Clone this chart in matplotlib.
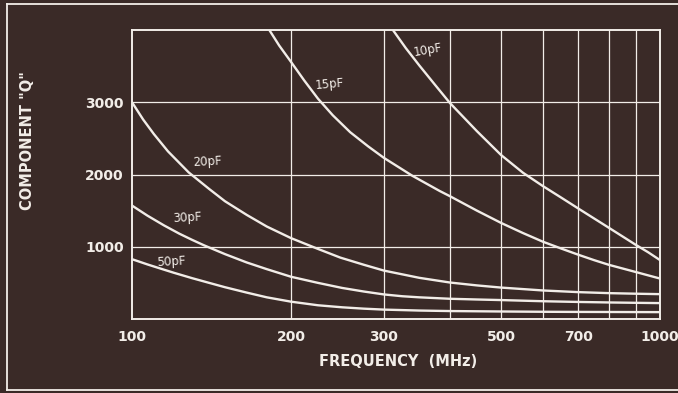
import matplotlib
matplotlib.use('Agg')
import matplotlib.pyplot as plt
from matplotlib.ticker import FixedLocator, NullFormatter, NullLocator

# values (frequency in MHz, component Q)
freq_10pf = [312, 330, 350, 375, 400, 450, 500, 550, 600, 650, 700, 750,
             800, 850, 900, 950, 1000]
q_10pf = [4000, 3750, 3510, 3240, 2990, 2600, 2270, 2025, 1840, 1680, 1530,
          1392, 1263, 1141, 1026, 923, 815]

freq_15pf = [182, 190, 200, 212, 225, 240, 259, 280, 300, 340, 383, 400, 450,
             500, 550, 600, 650, 700, 750, 800, 900, 1000]
q_15pf = [4000, 3785, 3560, 3300, 3050, 2820, 2585, 2390, 2230, 1980, 1770,
          1700, 1500, 1330, 1190, 1070, 975, 890, 815, 750, 650, 560]

freq_20pf = [100, 105, 110, 117, 128, 140, 150, 165, 180, 200, 225, 248, 275,
             300, 350, 400, 450, 500, 600, 700, 800, 900, 1000]
q_20pf = [3000, 2760, 2560, 2320, 2030, 1800, 1630, 1440, 1280, 1120, 970,
          850, 750, 670, 570, 505, 465, 435, 395, 372, 358, 350, 344]

freq_30pf = [100, 107, 115, 123, 130, 137, 150, 165, 180, 200, 225, 250, 275,
             300, 325, 350, 400, 450, 500, 600, 700, 800, 900, 1000]
q_30pf = [1570, 1430, 1295, 1180, 1095, 1019, 898, 782, 690, 585, 500, 430,
          380, 340, 315, 300, 280, 270, 262, 246, 236, 229, 224, 220]

freq_50pf = [100, 107, 113, 120, 130, 140, 150, 165, 180, 200, 225, 250, 275,
             300, 350, 400, 500, 600, 700, 800, 1000]
q_50pf = [828, 755, 700, 640, 565, 500, 440, 365, 300, 240, 190, 162, 143,
          130, 117, 110, 104, 100, 98, 97, 95]

curve_names = ['10pF', '15pF', '20pF', '30pF', '50pF']
label_spots = [(364, 3724), (237, 3255), (139, 2179), (127, 1407), (118.5, 786)]
label_angles = [10, 5, 3, 3, 3]

x_grid = [200, 300, 400, 500, 600, 700, 800, 900]
x_ticks = [100, 200, 300, 500, 700, 1000]
x_tick_labels = ['100', '200', '300', '500', '700', '1000']
y_ticks = [1000, 2000, 3000]
y_tick_labels = ['1000', '2000', '3000']

bg = '#3a2a27'
ink = '#f2ede8'

W, H = 678, 393
fig = plt.figure(figsize=(W / 100, H / 100), dpi=100)
fig.patch.set_facecolor(bg)

ax = fig.add_axes([132 / W, 1 - 319 / H, (660 - 132) / W, (319 - 30) / H])
ax.set_facecolor(bg)
ax.set_xscale('log')
ax.set_xlim(100, 1000)
ax.set_ylim(0, 4000)

for xv in x_grid:
    ax.axvline(xv, color=ink, lw=0.9, zorder=1)
for yv in y_ticks:
    ax.axhline(yv, color=ink, lw=0.9, zorder=1)

series = [(freq_10pf, q_10pf), (freq_15pf, q_15pf), (freq_20pf, q_20pf),
          (freq_30pf, q_30pf), (freq_50pf, q_50pf)]
for (fx, qy) in series:
    ax.plot(fx, qy, color=ink, lw=1.7, solid_joinstyle='round', zorder=3)

for name, (lx, ly), ang in zip(curve_names, label_spots, label_angles):
    ax.text(lx, ly, name, color=ink, fontsize=8.5, ha='center', va='center',
            rotation=ang, family='DejaVu Sans')

for s in ax.spines.values():
    s.set_color(ink)
    s.set_linewidth(1.4)

ax.xaxis.set_major_locator(FixedLocator(x_ticks))
ax.xaxis.set_minor_locator(NullLocator())
ax.xaxis.set_minor_formatter(NullFormatter())
ax.set_xticklabels(x_tick_labels)
ax.set_yticks(y_ticks)
ax.set_yticklabels(y_tick_labels)
ax.tick_params(length=0, colors=ink, labelsize=10)
ax.tick_params(axis='x', pad=8)
ax.tick_params(axis='y', pad=6)
for lab in ax.get_xticklabels() + ax.get_yticklabels():
    lab.set_fontweight('bold')

fig.text(398 / W, 1 - 361 / H, 'FREQUENCY  (MHz)', color=ink, fontsize=10.5,
         fontweight='bold', ha='center', va='center')
fig.text(28 / W, 1 - 141 / H, 'COMPONENT "Q"', color=ink, fontsize=10.5,
         fontweight='bold', ha='center', va='center', rotation=90)

# outer frame of the card
frame = dict(color=ink, lw=1.3)
fig.add_artist(plt.Line2D([7 / W, 7 / W], [1 - 390 / H, 1 - 4 / H], **frame))
fig.add_artist(plt.Line2D([7 / W, 1.01], [1 - 4 / H, 1 - 4 / H], **frame))
fig.add_artist(plt.Line2D([7 / W, 1.01], [1 - 390 / H, 1 - 390 / H], **frame))

fig.savefig('out.png', dpi=100, facecolor=bg)
